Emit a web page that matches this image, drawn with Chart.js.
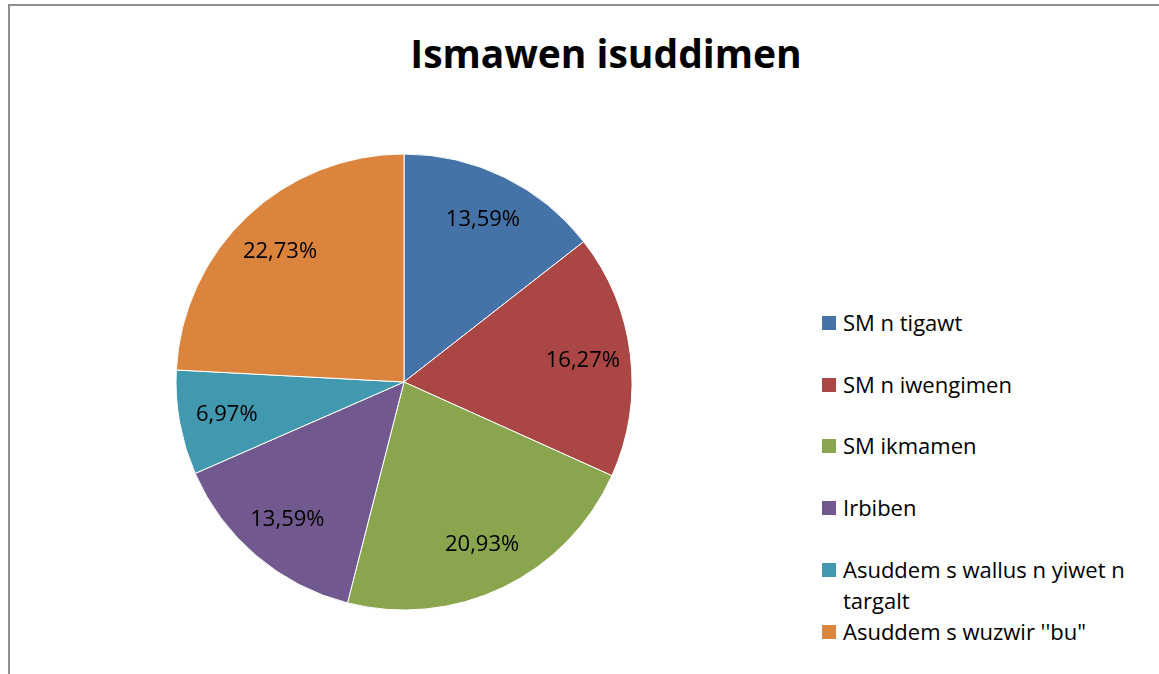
<!DOCTYPE html>
<html>
<head>
<meta charset="utf-8">
<script src="https://cdn.jsdelivr.net/npm/chart.js@4"></script>
<style>
  body { margin: 0; background: #fff; font-family: "Open Sans", sans-serif; }
  #frame { position: absolute; left: 8px; top: 4px; width: 1151px; height: 670px;
           border-top: 2px solid #8f8f8f; border-left: 2px solid #8f8f8f; }
  #title { position: absolute; left: 0; width: 1212px; top: 26px; text-align: center;
           font-weight: bold; font-size: 39px; color: #000; margin: 0; }
  #pieBox { position: absolute; left: 174px; top: 152px; width: 460px; height: 460px; }
  #legend { position: absolute; left: 822px; top: 0; }
  .item { position: absolute; left: 0; width: 340px; font-size: 22px; line-height: 31px; color: #000; }
  .sw { position: absolute; left: 0; width: 14px; height: 14px; top: 9px; }
  .txt { position: absolute; left: 21px; white-space: nowrap; }
</style>
</head>
<body>
<div id="frame"></div>
<div id="title">Ismawen isuddimen</div>
<div id="pieBox"><canvas id="pie" width="460" height="460"></canvas></div>
<div id="legend"></div>
<script>
let categories = ['SM n tigawt', 'SM n iwengimen', 'SM ikmamen', 'Irbiben',
  'Asuddem s wallus n yiwet n targalt', 'Asuddem s wuzwir \'\'bu"'];
let legendLines = [['SM n tigawt'], ['SM n iwengimen'], ['SM ikmamen'], ['Irbiben'],
  ['Asuddem s wallus n yiwet n', 'targalt'], ['Asuddem s wuzwir \'\'bu"']];
let values = [13.59, 16.27, 20.93, 13.59, 6.97, 22.73];
let colors = ['#4572A7', '#AA4643', '#89A54E', '#71588F', '#4198AF', '#DB843D'];
let legendTops = [307, 369, 430, 492, 554, 616];

// legend as html
let legend = document.getElementById('legend');
categories.forEach(function (c, i) {
  let div = document.createElement('div');
  div.className = 'item';
  div.style.top = legendTops[i] + 'px';
  div.innerHTML = '<span class="sw" style="background:' + colors[i] + '"></span>' +
    '<span class="txt">' + legendLines[i].join('<br>') + '</span>';
  legend.appendChild(div);
});

// percent labels inside slices
let sliceLabels = {
  id: 'sliceLabels',
  afterDatasetsDraw(chart) {
    let ctx = chart.ctx;
    let meta = chart.getDatasetMeta(0);
    ctx.save();
    ctx.font = '22px "Open Sans"';
    ctx.fillStyle = '#000';
    ctx.textAlign = 'center';
    ctx.textBaseline = 'middle';
    meta.data.forEach(function (arc, i) {
      let p = arc.getProps(['x', 'y', 'startAngle', 'endAngle', 'outerRadius'], true);
      let mid = (p.startAngle + p.endAngle) / 2;
      let r = p.outerRadius * 0.79;
      let txt = values[i].toFixed(2).replace('.', ',') + '%';
      ctx.fillText(txt, p.x + Math.cos(mid) * r, p.y + Math.sin(mid) * r);
    });
    ctx.restore();
  }
};

new Chart(document.getElementById('pie').getContext('2d'), {
  type: 'pie',
  data: {
    labels: categories,
    datasets: [{
      data: values,
      backgroundColor: colors,
      borderColor: '#fff',
      borderWidth: 1
    }]
  },
  options: {
    responsive: false,
    animation: false,
    radius: 228,
    layout: { padding: 0 },
    plugins: {
      legend: { display: false },
      tooltip: { enabled: false },
      title: { display: false }
    }
  },
  plugins: [sliceLabels]
});
</script>
</body>
</html>
